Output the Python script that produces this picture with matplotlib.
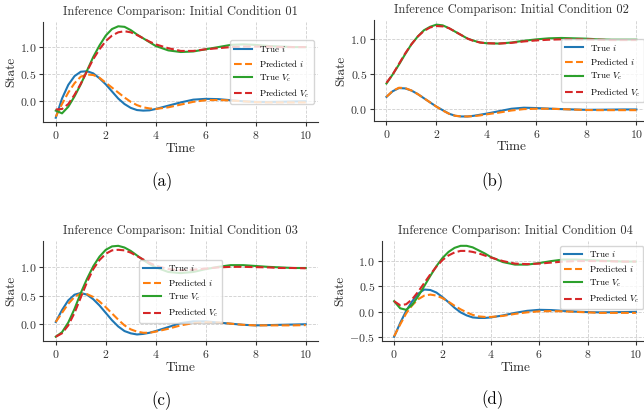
import matplotlib
matplotlib.use('Agg')
import matplotlib.pyplot as plt

# time grid shared by all four runs
t = [0, 0.25, 0.5, 0.75, 1.0, 1.25, 1.5, 1.75, 2.0, 2.25, 2.5, 2.75, 3.0, 3.25,
     3.5, 3.75, 4.0, 4.5, 5.0, 5.5, 6.0, 6.5, 7.0, 7.5, 8.0, 8.5, 9.0, 9.5, 10.0]

# initial condition 01
i_true_01 = [-0.30, 0.05, 0.30, 0.46, 0.54, 0.55, 0.51, 0.42, 0.31, 0.18, 0.05, -0.05, -0.12, -0.16,
             -0.17, -0.165, -0.14, -0.08, -0.02, 0.03, 0.045, 0.04, 0.02, 0.0, -0.01, -0.012, -0.008, -0.003, 0.0]
i_pred_01 = [-0.28, -0.05, 0.16, 0.33, 0.45, 0.49, 0.48, 0.43, 0.34, 0.25, 0.16, 0.07, -0.01, -0.07,
             -0.11, -0.13, -0.14, -0.11, -0.06, -0.01, 0.02, 0.025, 0.015, 0.0, -0.015, -0.02, -0.02, -0.02, -0.02]
vc_true_01 = [-0.17, -0.22, -0.10, 0.09, 0.31, 0.56, 0.81, 1.02, 1.20, 1.32, 1.37, 1.36, 1.30, 1.22,
              1.15, 1.08, 1.01, 0.93, 0.90, 0.91, 0.95, 0.99, 1.03, 1.04, 1.03, 1.01, 1.0, 0.99, 0.99]
vc_pred_01 = [-0.15, -0.14, -0.05, 0.12, 0.32, 0.55, 0.77, 0.95, 1.10, 1.20, 1.26, 1.28, 1.26, 1.21,
              1.15, 1.09, 1.04, 0.97, 0.92, 0.92, 0.95, 0.97, 0.99, 1.0, 1.0, 1.0, 0.99, 0.99, 0.99]

# initial condition 02
i_true_02 = [0.18, 0.26, 0.305, 0.30, 0.27, 0.22, 0.16, 0.10, 0.04, -0.01, -0.06, -0.09, -0.10, -0.10,
             -0.09, -0.075, -0.06, -0.025, 0.01, 0.025, 0.02, 0.012, 0.005, 0.0, -0.005, -0.004, -0.002, 0.0, 0.0]
i_pred_02 = [0.18, 0.265, 0.31, 0.305, 0.27, 0.22, 0.16, 0.10, 0.04, -0.015, -0.06, -0.09, -0.10, -0.10,
             -0.095, -0.085, -0.07, -0.045, -0.015, 0.005, 0.01, 0.01, 0.005, -0.002, -0.008, -0.01, -0.01, -0.01, -0.01]
vc_true_02 = [0.37, 0.50, 0.64, 0.79, 0.93, 1.04, 1.13, 1.18, 1.21, 1.20, 1.16, 1.11, 1.06, 1.01,
              0.98, 0.955, 0.945, 0.94, 0.955, 0.98, 1.0, 1.015, 1.02, 1.015, 1.01, 1.0, 0.995, 0.995, 0.995]
vc_pred_02 = [0.38, 0.50, 0.65, 0.80, 0.93, 1.04, 1.12, 1.17, 1.19, 1.185, 1.16, 1.11, 1.06, 1.01,
              0.975, 0.955, 0.945, 0.94, 0.95, 0.97, 0.985, 0.995, 1.0, 1.0, 1.0, 0.995, 0.99, 0.99, 0.99]

# initial condition 03
i_true_03 = [0.04, 0.25, 0.42, 0.52, 0.55, 0.52, 0.44, 0.33, 0.20, 0.07, -0.04, -0.12, -0.16, -0.18,
             -0.17, -0.15, -0.12, -0.05, 0.02, 0.05, 0.05, 0.03, 0.01, -0.01, -0.02, -0.015, -0.01, -0.005, 0.0]
i_pred_03 = [0.04, 0.20, 0.36, 0.48, 0.54, 0.53, 0.48, 0.40, 0.30, 0.19, 0.08, -0.02, -0.09, -0.13,
             -0.15, -0.15, -0.13, -0.08, -0.02, 0.02, 0.035, 0.03, 0.01, -0.01, -0.02, -0.02, -0.02, -0.02, -0.015]
vc_true_03 = [-0.22, -0.14, 0.03, 0.27, 0.55, 0.80, 1.02, 1.19, 1.31, 1.37, 1.38, 1.35, 1.29, 1.21,
              1.13, 1.06, 1.0, 0.92, 0.90, 0.92, 0.97, 1.01, 1.04, 1.04, 1.025, 1.01, 1.0, 0.99, 0.99]
vc_pred_03 = [-0.22, -0.16, -0.02, 0.20, 0.47, 0.74, 0.97, 1.13, 1.24, 1.30, 1.31, 1.30, 1.26, 1.20,
              1.14, 1.08, 1.03, 0.97, 0.95, 0.96, 0.98, 1.0, 1.01, 1.01, 1.005, 1.0, 0.99, 0.99, 0.985]

# initial condition 04
i_true_04 = [-0.49, -0.22, 0.02, 0.21, 0.36, 0.44, 0.43, 0.38, 0.29, 0.19, 0.08, -0.01, -0.07, -0.11,
             -0.12, -0.12, -0.11, -0.07, -0.02, 0.02, 0.04, 0.035, 0.02, 0.005, -0.005, -0.01, -0.008, -0.004, 0.0]
i_pred_04 = [-0.48, -0.25, -0.03, 0.13, 0.25, 0.32, 0.34, 0.32, 0.27, 0.20, 0.12, 0.05, -0.01, -0.06,
             -0.09, -0.10, -0.10, -0.08, -0.04, -0.01, 0.01, 0.015, 0.01, 0.0, -0.01, -0.02, -0.02, -0.02, -0.02]
vc_true_04 = [0.21, 0.07, 0.04, 0.14, 0.31, 0.51, 0.71, 0.90, 1.06, 1.18, 1.26, 1.30, 1.30, 1.27,
              1.21, 1.15, 1.08, 0.98, 0.93, 0.93, 0.96, 1.0, 1.03, 1.03, 1.02, 1.01, 1.0, 0.99, 0.99]
vc_pred_04 = [0.21, 0.13, 0.15, 0.25, 0.40, 0.57, 0.74, 0.89, 1.02, 1.11, 1.17, 1.20, 1.20, 1.18,
              1.15, 1.11, 1.07, 1.0, 0.95, 0.94, 0.95, 0.97, 0.99, 1.0, 1.0, 1.0, 0.995, 0.99, 0.99]

titles = ['01', '02', '03', '04']
captions = ['(a)', '(b)', '(c)', '(d)']
legend_locs = ['center right', 'center right', 'center', 'upper right']

runs = [
    (i_true_01, i_pred_01, vc_true_01, vc_pred_01),
    (i_true_02, i_pred_02, vc_true_02, vc_pred_02),
    (i_true_03, i_pred_03, vc_true_03, vc_pred_03),
    (i_true_04, i_pred_04, vc_true_04, vc_pred_04),
]

plt.rcParams.update({
    'font.family': 'cmr10',
    'mathtext.fontset': 'cm',
    'axes.formatter.use_mathtext': True,
    'font.size': 9,
    'axes.edgecolor': '#333333',
    'axes.labelcolor': '#262626',
    'xtick.color': '#333333',
    'ytick.color': '#333333',
})

fig = plt.figure(figsize=(6.44, 4.16), dpi=100)

# axes boxes in figure fractions: left, bottom, width, height
boxes = [
    [0.0672, 0.706, 0.4269, 0.2418],
    [0.5807, 0.709, 0.4268, 0.2428],
    [0.0672, 0.1796, 0.4269, 0.2404],
    [0.5932, 0.1796, 0.4130, 0.2404],
]
caption_pos = [(0.2516, 0.5625), (0.7655, 0.5625), (0.2516, 0.036), (0.764, 0.0385)]

for k in range(4):
    ax = fig.add_axes(boxes[k])
    it, ip, vt, vp = runs[k]
    ax.plot(t, it, color='#1f77b4', lw=1.5, label=r'True $i$')
    ax.plot(t, ip, color='#ff7f0e', lw=1.5, ls='--', label=r'Predicted $i$')
    ax.plot(t, vt, color='#2ca02c', lw=1.5, label=r'True $V_c$')
    ax.plot(t, vp, color='#d62728', lw=1.5, ls='--', label=r'Predicted $V_c$')
    ax.set_title('Inference Comparison: Initial Condition ' + titles[k], color='#333333', fontsize=9, pad=5)
    ax.set_xlabel('Time', labelpad=1, fontsize=9.5)
    ax.set_ylabel('State', labelpad=2, fontsize=9.5)
    ax.set_xticks([0, 2, 4, 6, 8, 10])
    ax.grid(True, ls='--', lw=0.6, color='#cfcfcf')
    ax.set_axisbelow(True)
    ax.spines['top'].set_visible(False)
    ax.spines['right'].set_visible(False)
    ax.tick_params(length=3, width=0.8, labelsize=8.5, pad=2)
    ax.legend(loc=legend_locs[k], fontsize=6.5, framealpha=0.8, borderpad=0.4, labelspacing=0.4)
    fig.text(caption_pos[k][0], caption_pos[k][1], captions[k], ha='center', va='center', fontsize=12)

fig.savefig('out.png', dpi=100)
